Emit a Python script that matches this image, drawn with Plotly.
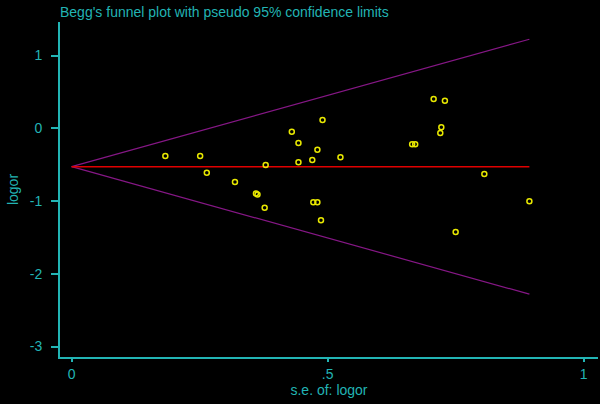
import plotly.graph_objects as go

# Study data
se = [0.183, 0.251, 0.264, 0.319, 0.360, 0.363, 0.379, 0.377, 0.490, 0.430,
      0.443, 0.480, 0.525, 0.443, 0.470, 0.472, 0.480, 0.487, 0.707, 0.729,
      0.722, 0.720, 0.665, 0.671, 0.806, 0.894, 0.750]
logor = [-0.381, -0.381, -0.610, -0.738, -0.895, -0.910, -0.504, -1.091, 0.114, -0.047,
         -0.202, -0.294, -0.399, -0.467, -0.436, -1.017, -1.017, -1.265, 0.403, 0.379,
         0.014, -0.065, -0.220, -0.220, -0.628, -1.003, -1.425]

theta = -0.528  # pooled estimate (red line)
se_max = max(se)
funnel_se = [0.0, se_max]

x_tickvals = [0, 0.5, 1]
x_ticktext = ["0", ".5", "1"]
y_tickvals = [1, 0, -1, -2, -3]
y_ticktext = ["1", "0", "-1", "-2", "-3"]

CYAN = "#22B4B4"
FONT = "Liberation Sans, Arial, sans-serif"
FS = 14

fig = go.Figure()
fig.add_trace(go.Scatter(x=funnel_se, y=[theta + 1.96 * s for s in funnel_se],
                         mode="lines", line=dict(color="#861786", width=1.2),
                         showlegend=False, hoverinfo="skip"))
fig.add_trace(go.Scatter(x=funnel_se, y=[theta - 1.96 * s for s in funnel_se],
                         mode="lines", line=dict(color="#861786", width=1.2),
                         showlegend=False, hoverinfo="skip"))
fig.add_trace(go.Scatter(x=funnel_se, y=[theta, theta],
                         mode="lines", line=dict(color="#E00000", width=1.6),
                         showlegend=False, hoverinfo="skip"))
fig.add_trace(go.Scatter(x=se, y=logor, mode="markers",
                         marker=dict(symbol="circle-open", size=5,
                                     color="#E8E800", line=dict(width=1.5, color="#E8E800")),
                         showlegend=False))

fig.update_layout(
    width=600, height=404,
    paper_bgcolor="black", plot_bgcolor="black",
    margin=dict(l=60, r=2, t=22, b=47),
    font=dict(family=FONT, color=CYAN, size=FS),
    title=dict(text="Begg's funnel plot with pseudo 95% confidence limits",
               x=60 / 600, xanchor="left", y=1 - 12 / 404, yanchor="middle",
               font=dict(family=FONT, color=CYAN, size=FS)),
    xaxis=dict(range=[-0.0227, 1.028], tickvals=x_tickvals, ticktext=x_ticktext,
               showgrid=False, zeroline=False, showline=True, linecolor=CYAN, linewidth=2,
               ticks="outside", ticklen=3, tickcolor=CYAN, tickwidth=1.5,
               tickfont=dict(color=CYAN, size=FS, family=FONT),
               title=dict(text="s.e. of: logor", font=dict(color=CYAN, size=FS, family=FONT),
                          standoff=0)),
    yaxis=dict(range=[-3.144, 1.461], tickvals=y_tickvals, ticktext=y_ticktext,
               showgrid=False, zeroline=False, showline=True, linecolor=CYAN, linewidth=2,
               ticks="outside", ticklen=7, tickcolor=CYAN, tickwidth=1.5,
               ticklabelstandoff=6,
               tickfont=dict(color=CYAN, size=FS, family=FONT),
               title=dict(text="logor", font=dict(color=CYAN, size=FS, family=FONT),
                          standoff=8)),
)

fig.write_html("out.html", post_script="document.body.style.margin='0';",
               config={"displayModeBar": False})
